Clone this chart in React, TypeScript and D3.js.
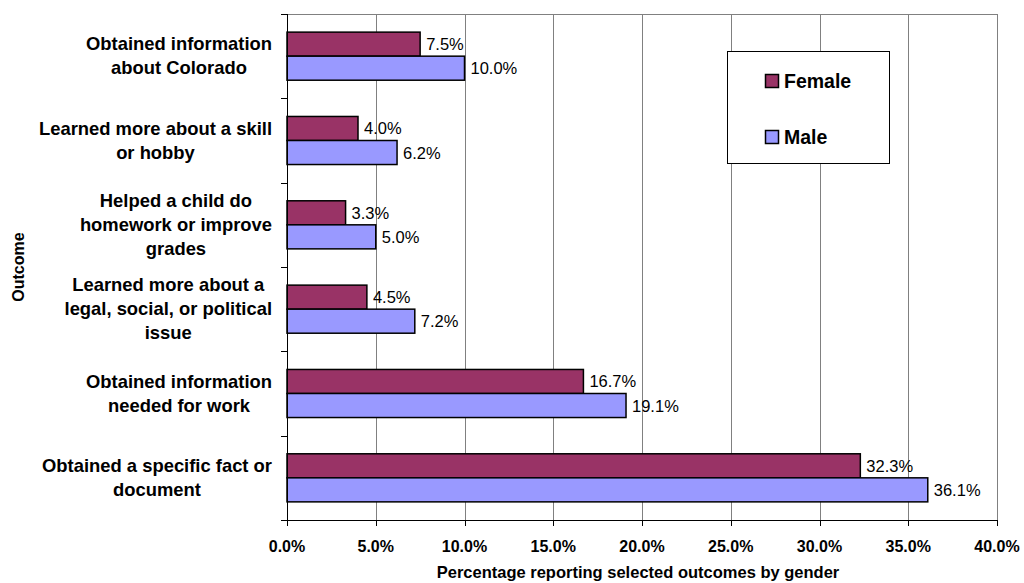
import React from "react";
import * as d3 from "d3";

const categories: string[][] = [
  ["Obtained information", "about Colorado"],
  ["Learned more about a skill", "or hobby"],
  ["Helped a child do", "homework or improve", "grades"],
  ["Learned more about a", "legal, social, or political", "issue"],
  ["Obtained information", "needed for work"],
  ["Obtained a specific fact or", "document"],
];
const femaleValues = [7.5, 4.0, 3.3, 4.5, 16.7, 32.3];
const maleValues = [10.0, 6.2, 5.0, 7.2, 19.1, 36.1];
const seriesNames = ["Female", "Male"];
const seriesColors = ["#993366", "#9999FF"];
const xTicks = [0, 5, 10, 15, 20, 25, 30, 35, 40];
const xTitle = "Percentage reporting selected outcomes by gender";
const yTitle = "Outcome";

const W = 1024;
const H = 583;
const left = 287;
const right = 997;
const top = 14;
const bottom = 520;
const FONT = "'Liberation Sans', Arial, sans-serif";

function measure(text: string, font: string): number {
  const c = document.createElement("canvas");
  const ctx = c.getContext("2d");
  if (!ctx) return text.length * 9;
  ctx.font = font;
  return ctx.measureText(text).width;
}

export default function App() {
  React.useEffect(() => {
    document.body.style.margin = "0";
  }, []);

  const ids = categories.map((_, i) => String(i));
  const x = d3.scaleLinear().domain([0, 40]).range([left, right]);
  const y0 = d3
    .scaleBand<string>()
    .domain(ids)
    .range([top, bottom])
    .paddingInner(0.43)
    .paddingOuter(0.215);
  const y1 = d3.scaleBand<string>().domain(seriesNames).range([0, y0.bandwidth()]);
  const step = (bottom - top) / categories.length;
  const series = [femaleValues, maleValues];
  const fmt = (v: number) => d3.format(".1f")(v) + "%";
  const catSize = 18.4;
  const catFont = `bold ${catSize}px ${FONT}`;

  return (
    <svg width={W} height={H} style={{ position: "absolute", left: 0, top: 0, fontFamily: FONT }}>
      <rect x={0} y={0} width={W} height={H} fill="#fff" />
      {/* gridlines */}
      {xTicks.slice(1, -1).map((t) => (
        <line key={"g" + t} x1={Math.round(x(t)) + 0.5} x2={Math.round(x(t)) + 0.5} y1={top} y2={bottom} stroke="#808080" strokeWidth={1} />
      ))}
      {/* top & right border */}
      <line x1={left} x2={right + 0.5} y1={top + 0.5} y2={top + 0.5} stroke="#808080" strokeWidth={1} />
      <line x1={right + 0.5} x2={right + 0.5} y1={top} y2={bottom} stroke="#808080" strokeWidth={1} />
      {/* bars */}
      {series.map((vals, si) =>
        vals.map((v, ci) => {
          const yy = (y0(ids[ci]) as number) + (y1(seriesNames[si]) as number);
          const h = y1.bandwidth();
          return (
            <g key={`b${si}-${ci}`}>
              <rect x={x(0)} y={yy} width={x(v) - x(0)} height={h} fill={seriesColors[si]} stroke="#000" strokeWidth={1.5} />
              <text x={x(v) + 6} y={yy + h / 2 + 6} fontSize={16.5} fill="#000">
                {fmt(v)}
              </text>
            </g>
          );
        })
      )}
      {/* axes */}
      <line x1={left + 0.5} x2={left + 0.5} y1={top} y2={bottom} stroke="#000" strokeWidth={1} />
      <line x1={left} x2={right + 1} y1={bottom + 0.5} y2={bottom + 0.5} stroke="#000" strokeWidth={1} />
      {d3.range(categories.length + 1).map((i) => (
        <line key={"yt" + i} x1={left - 6} x2={left} y1={Math.round(top + i * step) + 0.5} y2={Math.round(top + i * step) + 0.5} stroke="#000" />
      ))}
      {xTicks.map((t) => (
        <g key={"xt" + t}>
          <line x1={Math.round(x(t)) + 0.5} x2={Math.round(x(t)) + 0.5} y1={bottom} y2={bottom + 6} stroke="#000" />
          <text x={x(t)} y={552} textAnchor="middle" fontSize={16} fontWeight="bold">
            {fmt(t)}
          </text>
        </g>
      ))}
      {/* category labels */}
      {categories.map((lines, ci) => {
        const cy = (y0(ids[ci]) as number) + y0.bandwidth() / 2;
        const maxW = Math.max(...lines.map((l) => measure(l, catFont)));
        const cx = 272 - maxW / 2;
        return (
          <text key={"c" + ci} textAnchor="middle" fontSize={catSize} fontWeight="bold">
            {lines.map((l, li) => (
              <tspan key={li} x={cx} y={cy + 6 + (li - (lines.length - 1) / 2) * 24}>
                {l}
              </tspan>
            ))}
          </text>
        );
      })}
      {/* axis titles */}
      <text x={638} y={578} textAnchor="middle" fontSize={16.5} fontWeight="bold">
        {xTitle}
      </text>
      <text transform={`translate(24, ${(top + bottom) / 2}) rotate(-90)`} textAnchor="middle" fontSize={16} fontWeight="bold">
        {yTitle}
      </text>
      {/* legend */}
      <rect x={727.5} y={51.5} width={162} height={112} fill="#fff" stroke="#000" strokeWidth={1} />
      {seriesNames.map((n, i) => (
        <g key={"l" + n}>
          <rect x={765.5} y={74.5 + i * 56} width={13} height={13} fill={seriesColors[i]} stroke="#000" strokeWidth={1.5} />
          <text x={784} y={87.5 + i * 56} fontSize={19.5} fontWeight="bold">
            {n}
          </text>
        </g>
      ))}
    </svg>
  );
}
